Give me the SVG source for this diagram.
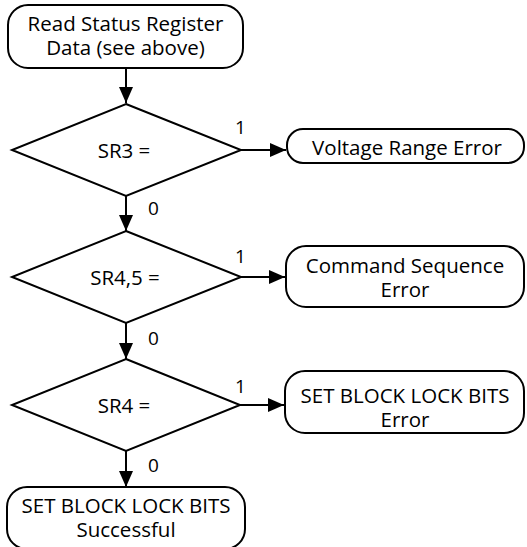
<svg xmlns="http://www.w3.org/2000/svg" width="527" height="547" viewBox="0 0 527 547">
  <style>
    .box { fill: #fff; stroke: #000; stroke-width: 2; }
    .dec { fill: #fff; stroke: #000; stroke-width: 2; stroke-linejoin: miter; }
    .t { font-family: "Open Sans", "Noto Sans", "DejaVu Sans", sans-serif; font-size: 20.5px; fill: #000; text-anchor: middle; }
    .lbl { font-family: "Open Sans", "Noto Sans", "DejaVu Sans", sans-serif; font-size: 19px; fill: #000; }
    .edge { stroke: #000; stroke-width: 2; fill: none; marker-end: url(#arrow); }
  </style>
  <defs>
    <marker id="arrow" markerUnits="userSpaceOnUse" markerWidth="16" markerHeight="14" refX="16" refY="7" orient="auto">
      <path d="M0,0 L16,7 L0,14 Z" fill="#000"/>
    </marker>
  </defs>
  <rect width="527" height="547" fill="#fff"/>

  <g id="connectors">
    <line class="edge" x1="126" y1="68" x2="126" y2="103"/>
    <line class="edge" x1="241" y1="150" x2="286" y2="150"/>
    <line class="edge" x1="126" y1="196" x2="126" y2="231"/>
    <line class="edge" x1="241" y1="277" x2="285" y2="277"/>
    <line class="edge" x1="126" y1="323" x2="126" y2="359"/>
    <line class="edge" x1="240" y1="405" x2="284" y2="405"/>
    <line class="edge" x1="126" y1="451" x2="126" y2="487"/>
    <text class="lbl" x="235" y="134">1</text>
    <text class="lbl" x="148" y="215">0</text>
    <text class="lbl" x="235" y="263">1</text>
    <text class="lbl" x="148" y="345">0</text>
    <text class="lbl" x="235" y="393">1</text>
    <text class="lbl" x="148" y="472">0</text>
  </g>

  <g id="read-status">
    <rect class="box" x="8" y="5" width="235" height="63" rx="20" ry="20"/>
    <text class="t" x="125.5" y="31">Read Status Register</text>
    <text class="t" x="125.5" y="55">Data (see above)</text>
  </g>

  <g id="check-sr3">
    <polygon class="dec" points="126,104 241,150 126,196 12,150"/>
    <text class="t" x="124" y="158">SR3 =</text>
  </g>

  <g id="voltage-error">
    <rect class="box" x="287" y="129" width="237" height="34" rx="16" ry="16"/>
    <text class="t" x="407" y="155">Voltage Range Error</text>
  </g>

  <g id="check-sr45">
    <polygon class="dec" points="126,231 241,277 126,323 12,277"/>
    <text class="t" x="125" y="285">SR4,5 =</text>
  </g>

  <g id="command-error">
    <rect class="box" x="286" y="246" width="238" height="61" rx="20" ry="20"/>
    <text class="t" x="405" y="273">Command Sequence</text>
    <text class="t" x="405" y="297">Error</text>
  </g>

  <g id="check-sr4">
    <polygon class="dec" points="126,359 240,405 126,451 12,405"/>
    <text class="t" x="124" y="413">SR4 =</text>
  </g>

  <g id="lock-error">
    <rect class="box" x="285" y="371" width="239" height="62" rx="20" ry="20"/>
    <text class="t" x="405" y="403">SET BLOCK LOCK BITS</text>
    <text class="t" x="405" y="427">Error</text>
  </g>

  <g id="lock-success">
    <rect class="box" x="7" y="487" width="238" height="62" rx="20" ry="20"/>
    <text class="t" x="126" y="513">SET BLOCK LOCK BITS</text>
    <text class="t" x="126" y="537">Successful</text>
  </g>
</svg>
